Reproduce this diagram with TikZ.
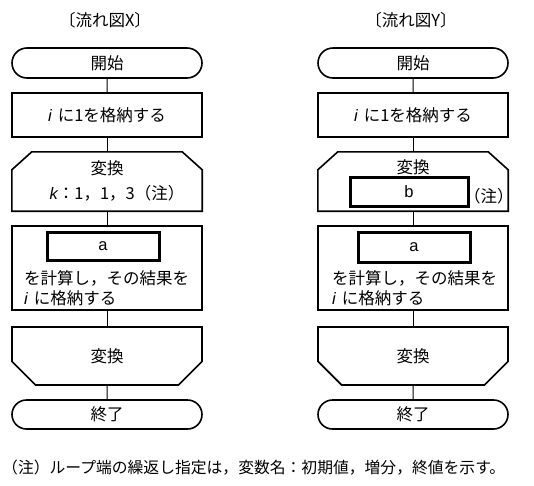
\documentclass[tikz,border=0pt]{standalone}
\usepackage{fontspec}
\setmainfont{Noto Sans CJK JP}
\newfontfamily\latin{Liberation Sans}
\usepackage{tikz}
\usetikzlibrary{shapes.misc}
\usetikzlibrary{calc}
\usetikzlibrary{positioning}
\newcommand{\vi}{{\latin\itshape i}\hspace{6pt}}

\begin{document}
\begin{tikzpicture}[x=1pt, y=-1pt,
  every node/.style={font=\fontsize{16.5}{20}\selectfont, inner sep=0pt},
  outline/.style={line width=1.6pt, line join=miter},
  term/.style={draw, rounded rectangle, outline, minimum width=190pt, minimum height=30pt},
  proc/.style={draw, rectangle, outline, minimum width=190pt},
  loopbeg/.style={rectangle, minimum width=190pt, minimum height=59pt},
  loopend/.style={draw, chamfered rectangle, chamfered rectangle corners={south west, south east}, chamfered rectangle sep=16pt, outline, minimum width=190pt, minimum height=58pt},
  inbox/.style={draw, rectangle, line width=3pt, minimum width=112pt, minimum height=28pt},
  flow/.style={line width=1pt}]
\useasboundingbox (0,0) rectangle (534,485);

\node (ttlX) at (105,20) {〔流れ図X〕};
\node[term] (stX) at (107,63) {開始};
\node[proc, minimum height=44pt] (inX) at (107,115) {\vi に1を格納する};
\node[loopbeg] (lbX) at (107,181.5) {};
\node (lbXa) at (107,168) {変換};
\node (lbXb) at (117,193) {{\latin\itshape k}：1，1，3（注）};
\node[proc, minimum height=84pt] (calX) at (107,268) {};
\node[inbox] (aX) at (103,246) {\latin a};
\node[anchor=west, align=left] (txX) at (24,288) {を計算し，その結果を\\\vi に格納する};
\node[loopend] (leX) at (107,356) {変換};
\node[term, minimum height=29pt] (enX) at (107,414.5) {終了};

\node (ttlY) at (411,20) {〔流れ図Y〕};
\node[term] (stY) at (413,63) {開始};
\node[proc, minimum height=44pt] (inY) at (413,115) {\vi に1を格納する};
\node[loopbeg] (lbY) at (413,181.5) {};
\node (lbYa) at (413,167) {変換};
\node[inbox, minimum width=118pt, minimum height=29pt] (bY) at (409,191.5) {\latin b};
\node[anchor=west] (ntY) at (464,196) {（注）};
\node[proc, minimum height=84pt] (calY) at (413,268) {};
\node[inbox, minimum height=30pt] (aY) at (414,247) {\latin a};
\node[anchor=west, align=left] (txY) at (332,288) {を計算し，その結果を\\\vi に格納する};
\node[loopend] (leY) at (413,356) {変換};
\node[term, minimum height=29pt] (enY) at (413,414.5) {終了};

\node[anchor=west, font=\fontsize{15.8}{18}\selectfont] (note) at (2,468) {（注）ループ端の繰返し指定は，変数名：初期値，増分，終値を示す。};

\foreach \c in {X,Y} {
  \draw[outline] (lb\c.south west) -- ($(lb\c.north west)+(0,18)$) -- ($(lb\c.north west)+(20,0)$)
    -- ($(lb\c.north east)+(-20,0)$) -- ($(lb\c.north east)+(0,18)$) -- (lb\c.south east) -- cycle;
  \draw[flow] (st\c) -- (in\c);
  \draw[flow] (in\c) -- (lb\c);
  \draw[flow] (lb\c) -- (cal\c);
  \draw[flow] (cal\c) -- (le\c);
  \draw[flow] (le\c) -- (en\c);
}
\end{tikzpicture}
\end{document}
